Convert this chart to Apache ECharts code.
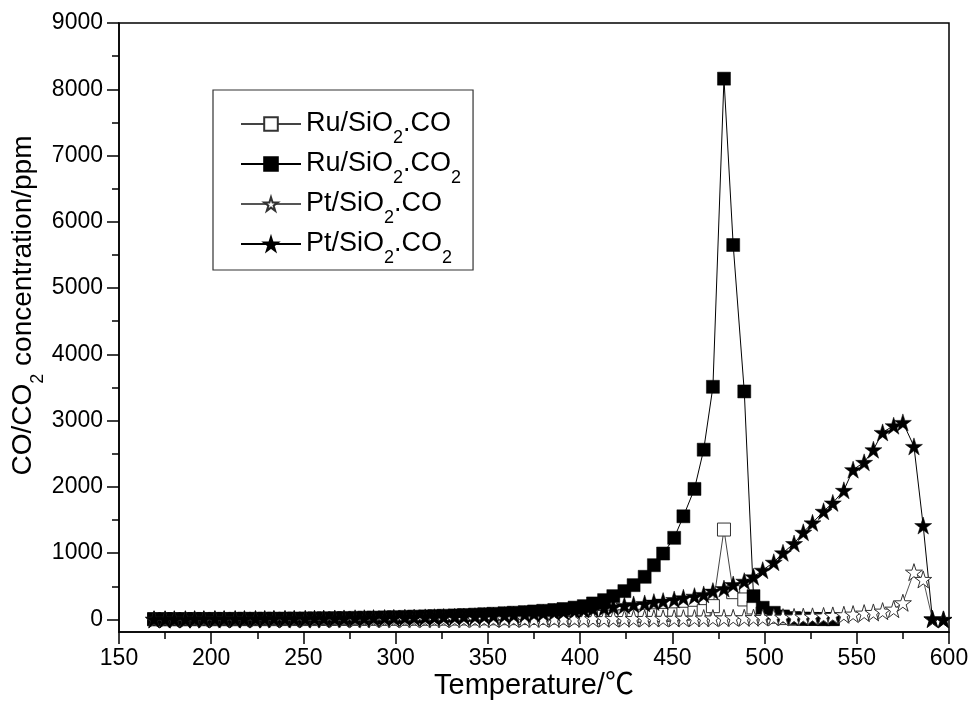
<!DOCTYPE html>
<html>
<head>
<meta charset="utf-8">
<script src="https://cdn.jsdelivr.net/npm/echarts@6/dist/echarts.min.js"></script>
<style>
  html, body { margin: 0; padding: 0; background: #fff; }
  #chart { width: 973px; height: 711px; }
</style>
</head>
<body>
<div id="chart"></div>
<script>
// Temperature of each sample (°C)
const temperature = [
  169, 175, 180, 186, 191, 196, 202, 207, 213, 218,
  224, 229, 234, 240, 245, 251, 256, 261, 267, 272,
  278, 283, 288, 294, 299, 305, 310, 316, 321, 326,
  332, 337, 343, 348, 353, 359, 364, 370, 375, 380,
  386, 391, 397, 402, 407, 413, 418, 424, 429, 435,
  440, 445, 451, 456, 462, 467, 472, 478, 483, 489,
  494, 499, 505, 510, 516, 521, 526, 532, 537, 543,
  548, 554, 559, 564, 570, 575, 581, 586, 591, 597
];

// Ru/SiO2 run (first 69 temperatures), ppm
const ruCO = [
  2, 2, 2, 2, 3, 3, 3, 3, 3, 4,
  4, 4, 4, 5, 5, 5, 5, 6, 6, 6,
  7, 7, 8, 8, 9, 9, 10, 10, 11, 12,
  13, 14, 15, 16, 17, 18, 19, 20, 22, 24,
  26, 28, 30, 32, 35, 38, 42, 46, 50, 56,
  62, 68, 76, 85, 100, 125, 200, 1356, 411, 301,
  180, 90, 40, 20, 10, 8, 6, 5, 5
];
const ruCO2 = [
  5, 5, 6, 6, 7, 7, 8, 8, 9, 10,
  10, 11, 12, 13, 14, 15, 16, 18, 20, 22,
  24, 26, 28, 31, 34, 38, 42, 46, 50, 55,
  60, 66, 72, 78, 85, 93, 101, 110, 120, 130,
  142, 157, 178, 200, 241, 291, 351, 427, 517, 643,
  818, 994, 1231, 1556, 1969, 2561, 3510, 8160, 5650, 3440,
  351, 176, 100, 45, 20, 10, 8, 5, 5
];

// Pt/SiO2 run (all 80 temperatures), ppm
const ptCO = [
  0, 0, 0, 0, 0, 0, 1, 1, 1, 1,
  1, 1, 2, 2, 2, 2, 2, 3, 3, 3,
  3, 3, 4, 4, 4, 4, 5, 5, 5, 6,
  6, 6, 7, 7, 8, 8, 8, 9, 9, 10,
  10, 10, 11, 11, 12, 12, 13, 13, 14, 14,
  15, 16, 17, 18, 19, 20, 21, 22, 24, 25,
  27, 29, 31, 34, 37, 41, 46, 52, 60, 70,
  80, 95, 105, 125, 155, 251, 713, 603, 5, 0
];
const ptCO2 = [
  3, 3, 4, 4, 5, 5, 6, 6, 7, 7,
  8, 8, 9, 9, 10, 11, 12, 13, 14, 15,
  18, 19, 21, 23, 25, 27, 29, 31, 34, 37,
  40, 44, 48, 53, 58, 64, 71, 79, 88, 98,
  110, 120, 135, 150, 163, 176, 191, 211, 226, 241,
  261, 276, 301, 327, 351, 377, 427, 465, 527, 577,
  643, 743, 863, 1005, 1145, 1315, 1457, 1632, 1758, 1948,
  2260, 2370, 2561, 2822, 2923, 2973, 2611, 1416, 10, 0
];

const seriesNames = ['Ru/SiO2.CO', 'Ru/SiO2.CO2', 'Pt/SiO2.CO', 'Pt/SiO2.CO2'];
const yMajorTicks = [0, 1000, 2000, 3000, 4000, 5000, 6000, 7000, 8000, 9000];
const yMinorTicks = [500, 1500, 2500, 3500, 4500, 5500, 6500, 7500, 8500];

const FONT = '"Liberation Sans", Arial, "Noto Sans CJK SC", sans-serif';
const STAR = 'path://M50 0 L61.23 34.55 L97.55 34.55 L68.17 55.9 L79.39 90.45 L50 69.1 L20.61 90.45 L31.83 55.9 L2.45 34.55 L38.77 34.55 Z';

function pairs(values) {
  return values.map((v, i) => [temperature[i], v]);
}

// Chemical formula with subscript 2, as rich text
function formula(name) {
  return name.split('2').map((part, i, arr) =>
    (part ? '{t|' + part + '}' : '') + (i < arr.length - 1 ? '{s|2}' : '')
  ).join('');
}

function lineSeries(name, values, symbol, size, filled, lineColor) {
  return {
    name: name,
    type: 'line',
    data: pairs(values),
    symbol: symbol,
    symbolSize: size,
    showAllSymbol: true,
    lineStyle: { color: lineColor, width: 1 },
    itemStyle: filled
      ? { color: '#000', borderColor: '#000', borderWidth: 0.5 }
      : { color: '#fff', borderColor: '#333', borderWidth: 1 },
    emphasis: { disabled: true },
    animation: false
  };
}

const chart = echarts.init(document.getElementById('chart'), null, { renderer: 'canvas' });

chart.setOption({
  backgroundColor: '#fff',
  animation: false,
  textStyle: { fontFamily: FONT, color: '#000' },
  grid: {
    left: 119, right: 24, top: 23, bottom: 79,
    outerBoundsMode: 'none',
    containLabel: false,
    show: true, borderColor: '#000', borderWidth: 1.5, backgroundColor: 'transparent'
  },
  legend: {
    orient: 'vertical',
    left: 213, top: 90,
    padding: [11, 12, 3, 27],
    itemWidth: 60, itemHeight: 17, itemGap: -6,
    borderColor: '#333', borderWidth: 1.2,
    data: seriesNames,
    formatter: formula,
    textStyle: {
      rich: {
        t: { fontSize: 27, lineHeight: 30, fontFamily: FONT, color: '#000' },
        s: { fontSize: 18, lineHeight: 2, padding: [28, 0, 0, 0], fontFamily: FONT, color: '#000' }
      }
    }
  },
  xAxis: {
    type: 'value',
    min: 150, max: 600, interval: 50,
    name: 'Temperature/℃',
    nameLocation: 'middle', nameGap: 39,
    nameMoveOverlap: false,
    nameTextStyle: { fontSize: 29, fontFamily: FONT, color: '#000' },
    axisLine: { onZero: false, lineStyle: { color: '#000', width: 1.5 } },
    axisTick: { length: 12, lineStyle: { color: '#000', width: 1.5 } },
    minorTick: { show: true, splitNumber: 2, length: 7, lineStyle: { color: '#000', width: 1.5 } },
    axisLabel: { fontSize: 23, margin: 15, color: '#000', fontFamily: FONT },
    splitLine: { show: false }
  },
  yAxis: [
    {
      type: 'value',
      min: -190, max: 9000,
      name: '{t|CO/CO}{s|2}{t| concentration/ppm}',
      nameLocation: 'middle', nameGap: 80,
      nameMoveOverlap: false,
      nameTextStyle: {
        padding: [0, 0, 0, 44],
        rich: {
          t: { fontSize: 28, lineHeight: 32, fontFamily: FONT, color: '#000' },
          s: { fontSize: 18, lineHeight: 2, padding: [30, 0, 0, 0], fontFamily: FONT, color: '#000' }
        }
      },
      axisLine: { show: true, onZero: false, lineStyle: { color: '#000', width: 1.5 } },
      axisTick: { show: true, customValues: yMajorTicks, length: 12, lineStyle: { color: '#000', width: 1.5 } },
      axisLabel: {
        customValues: yMajorTicks, fontSize: 23, margin: 16, color: '#000', fontFamily: FONT,
        formatter: v => String(v)
      },
      splitLine: { show: false }
    },
    {
      type: 'value',
      min: -190, max: 9000,
      position: 'left',
      axisLine: { show: false },
      axisTick: { show: true, customValues: yMinorTicks, length: 7, lineStyle: { color: '#000', width: 1.5 } },
      axisLabel: { show: false },
      splitLine: { show: false }
    }
  ],
  series: [
    lineSeries(seriesNames[0], ruCO, 'rect', 13, false, '#444'),
    lineSeries(seriesNames[1], ruCO2, 'rect', 13, true, '#000'),
    lineSeries(seriesNames[2], ptCO, STAR, 17, false, '#555'),
    lineSeries(seriesNames[3], ptCO2, STAR, 17, true, '#000')
  ]
});
</script>
</body>
</html>
